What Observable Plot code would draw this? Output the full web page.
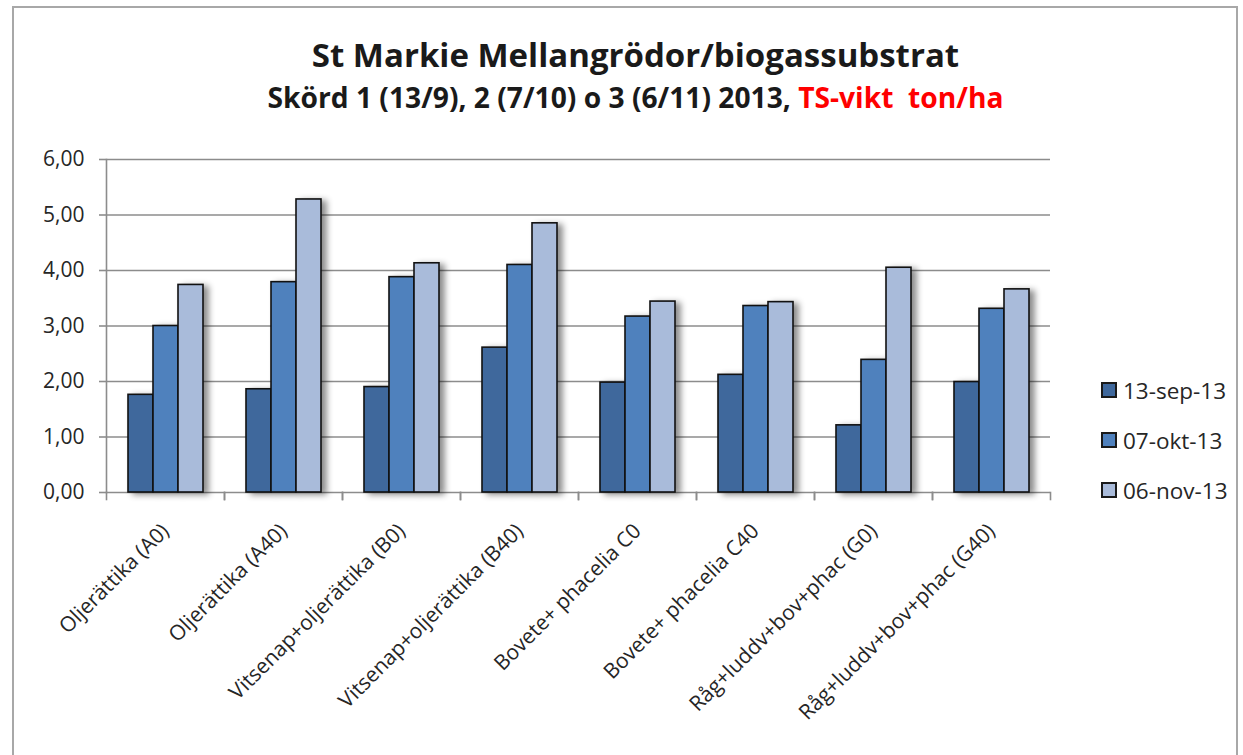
<!DOCTYPE html>
<html><head><meta charset="utf-8">
<script src="https://cdn.jsdelivr.net/npm/d3@7"></script>
<script src="https://cdn.jsdelivr.net/npm/@observablehq/plot@0.6"></script>
<style>
body{margin:0;background:#fff;}
#chart{position:relative;width:1243px;height:755px;overflow:hidden;font-family:"Open Sans",sans-serif;color:#1a1a1a;}
#border{position:absolute;left:12px;top:6px;width:1226px;height:800px;border:2px solid #a8a8a8;box-sizing:border-box;}
#title{position:absolute;left:14px;width:1243px;top:38px;text-align:center;font-weight:700;font-size:33px;line-height:33px;white-space:nowrap;}
#subtitle{position:absolute;left:14px;width:1243px;top:83px;text-align:center;font-weight:700;font-size:28.2px;line-height:28px;white-space:nowrap;}
#subtitle .red{color:#ff0000;}
#plot{position:absolute;left:0;top:130px;}
.item{position:absolute;left:1101px;height:26px;display:flex;align-items:center;font-size:22.5px;color:#262626;white-space:nowrap;}
.sw{width:12px;height:12px;border:2px solid #1a1a1a;margin-right:6px;}
</style>
</head><body>
<div id="chart">
  <div id="border"></div>
  <div id="title"></div>
  <div id="subtitle"></div>
  <div id="plot"></div>
  <div id="legend"></div>
</div>
<script>
const title = "St Markie Mellangrödor/biogassubstrat";
const subtitleBlack = "Skörd 1 (13/9), 2 (7/10) o 3 (6/11) 2013, ";
const subtitleRed = "TS-vikt\u00a0 ton/ha";
const categories = ["Oljerättika (A0)", "Oljerättika (A40)", "Vitsenap+oljerättika (B0)", "Vitsenap+oljerättika (B40)", "Bovete+ phacelia C0", "Bovete+ phacelia C40", "Råg+luddv+bov+phac (G0)", "Råg+luddv+bov+phac (G40)"];
const series = ["13-sep-13", "07-okt-13", "06-nov-13"];
const colors = ["#3f689c", "#4f81bd", "#a9bbda"];
const sep13 = [1.76, 1.86, 1.90, 2.61, 1.98, 2.12, 1.21, 1.99];
const okt07 = [3.00, 3.79, 3.88, 4.10, 3.17, 3.36, 2.39, 3.31];
const nov06 = [3.74, 5.28, 4.13, 4.85, 3.44, 3.43, 4.05, 3.66];
const yTicks = [0, 1, 2, 3, 4, 5, 6];

document.getElementById("title").textContent = title;
const sub = document.getElementById("subtitle");
sub.appendChild(document.createTextNode(subtitleBlack));
const red = document.createElement("span"); red.className = "red"; red.textContent = subtitleRed; sub.appendChild(red);

const valuesBySeries = [sep13, okt07, nov06];
const table = [];
categories.forEach((c, i) => series.forEach((s, j) => table.push({category: c, series: s, value: valuesBySeries[j][i]})));

const grid = "#8c8c8c";
const plot = Plot.plot({
  width: 1243, height: 625,
  marginTop: 29, marginBottom: 263, marginLeft: 102, marginRight: 190,
  style: {fontFamily: "Open Sans", background: "transparent", overflow: "visible"},
  fx: {domain: categories, padding: 0},
  x: {domain: series, paddingInner: 0, paddingOuter: 0.78, axis: null},
  y: {domain: [0, 6]},
  color: {domain: series, range: colors},
  marks: [
    Plot.gridY(yTicks, {stroke: grid, strokeOpacity: 1, strokeWidth: 1.6}),
    Plot.frame({anchor: "left", facet: "super", stroke: grid, strokeWidth: 1.6}),
    Plot.frame({anchor: "left", insetTop: 333, insetBottom: -7, stroke: grid, strokeWidth: 1.6}),
    Plot.frame({anchor: "right", insetTop: 333, insetBottom: -7, stroke: grid, strokeWidth: 1.6}),
    Plot.barY(table, {fx: "category", x: "series", y: "value", fill: "series", stroke: "#111", strokeWidth: 1.6,
      imageFilter: "drop-shadow(5px 2px 3px rgba(0,0,0,0.45))"}),
    Plot.axisY(yTicks, {tickFormat: d => d.toFixed(2).replace(".", ","), tickSize: 7, tickPadding: 15, fontSize: 21, stroke: grid, strokeWidth: 1.6, fill: "#262626", label: null}),
    Plot.axisFx({anchor: "bottom", tickRotate: -45, tickSize: 0, tickPadding: 35, fontSize: 21, fill: "#262626", label: null})
  ]
});
document.getElementById("plot").appendChild(plot);

const legend = document.getElementById("legend");
const legendCenters = [390, 440, 490];
series.forEach((s, i) => {
  const it = document.createElement("div"); it.className = "item"; it.style.top = (legendCenters[i] - 13) + "px";
  const sw = document.createElement("div"); sw.className = "sw"; sw.style.background = colors[i];
  it.appendChild(sw); it.appendChild(document.createTextNode(s)); legend.appendChild(it);
});
</script>
</body></html>
